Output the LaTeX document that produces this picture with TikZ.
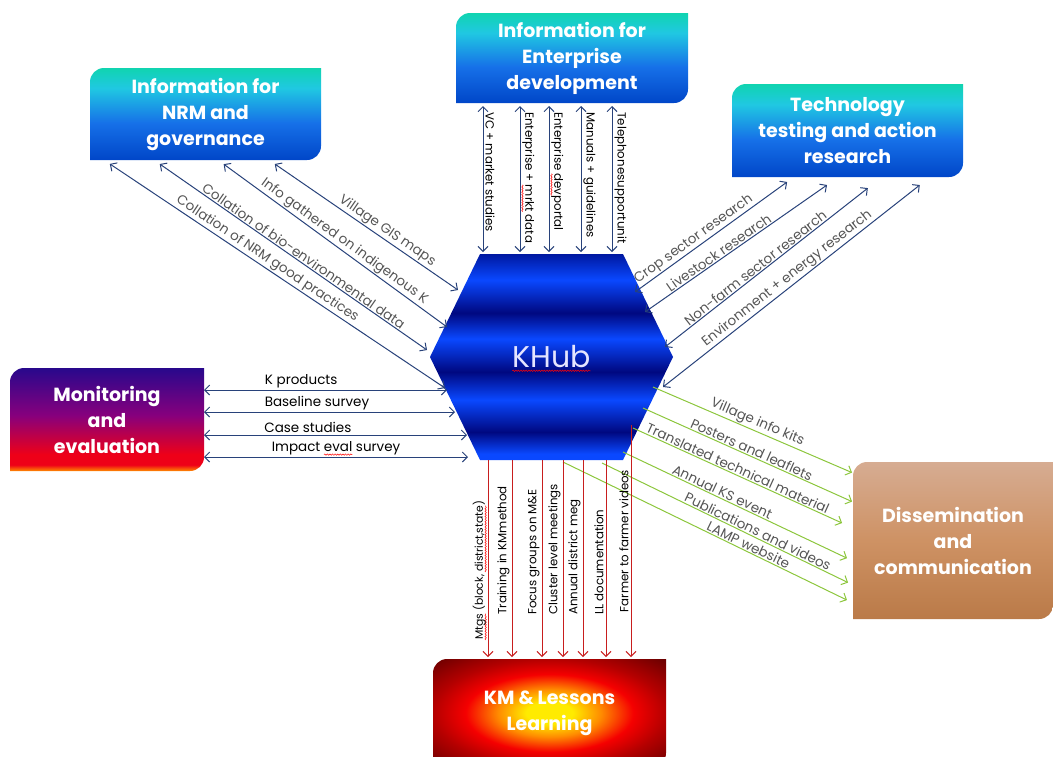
\documentclass[tikz,border=0pt]{standalone}
\usepackage{fontspec}
\setmainfont{Poppins}
\usepackage{tikz}
\usetikzlibrary{arrows.meta,backgrounds,decorations.pathmorphing}

\definecolor{navyline}{RGB}{40,66,122}
\definecolor{greenline}{RGB}{140,198,60}
\definecolor{redline}{RGB}{200,30,30}
\definecolor{labgray}{RGB}{85,85,85}
% box fills
\definecolor{cyT}{RGB}{16,212,176}
\definecolor{cyC}{RGB}{32,200,226}
\definecolor{cyM}{RGB}{22,112,232}
\definecolor{cyB}{RGB}{0,70,200}
\definecolor{hubT}{RGB}{0,24,160}
\definecolor{hubL}{RGB}{10,72,255}
\definecolor{hubD}{RGB}{0,8,128}
\definecolor{mneV}{RGB}{40,8,140}
\definecolor{mneP}{RGB}{135,0,125}
\definecolor{mneR}{RGB}{238,0,24}
\definecolor{mneO}{RGB}{255,140,0}
\definecolor{disT}{RGB}{214,172,146}
\definecolor{disM}{RGB}{206,146,100}
\definecolor{disB}{RGB}{186,122,72}
\definecolor{kmY}{RGB}{255,235,0}
\definecolor{kmO}{RGB}{255,140,0}
\definecolor{kmR}{RGB}{245,0,0}
\definecolor{kmD}{RGB}{180,0,0}
\definecolor{kmK}{RGB}{100,0,0}

\pgfdeclareverticalshading{cyanbox}{100bp}{color(0bp)=(cyB); color(25bp)=(cyB); color(45bp)=(cyM); color(64bp)=(cyC); color(75bp)=(cyT); color(100bp)=(cyT)}
\pgfdeclareverticalshading{hubbands}{100bp}{color(0bp)=(hubL); color(26.5bp)=(hubL); color(31.8bp)=(hubD); color(39.6bp)=(hubL); color(46.4bp)=(hubD); color(54.4bp)=(hubL); color(60.7bp)=(hubD); color(68.7bp)=(hubL); color(75bp)=(hubT); color(100bp)=(hubT)}
\pgfdeclareverticalshading{mnebox}{100bp}{color(0bp)=(mneO); color(25bp)=(mneO); color(28bp)=(mneR); color(33bp)=(mneR); color(52bp)=(mneP); color(75bp)=(mneV); color(100bp)=(mneV)}
\pgfdeclareverticalshading{disbox}{100bp}{color(0bp)=(disB); color(25bp)=(disB); color(50bp)=(disM); color(75bp)=(disT); color(100bp)=(disT)}
\pgfdeclareradialshading{kmglow}{\pgfpoint{0bp}{0bp}}{color(0bp)=(kmY); color(5bp)=(kmY); color(11bp)=(kmO); color(18bp)=(kmR); color(25bp)=(kmD); color(36bp)=(kmK); color(50bp)=(kmK)}

% box with two round corners (top left, bottom right)
\newcommand{\cornerbox}[2]{%
  \shade[shading=#1,rounded corners=14pt] (#2.north west) rectangle (#2.south east)
    [sharp corners] (#2.north) rectangle (#2.east) (#2.west) rectangle (#2.south);}
% red wavy mark of the spell checker
\newlength{\spellwd}
\newcommand{\spell}[1]{\settowidth{\spellwd}{#1}\rlap{\tikz[baseline=0pt,overlay]\draw[arrows=-,shorten <=0pt,shorten >=0pt,red,line width=0.5pt,decorate,decoration={snake,amplitude=0.7pt,segment length=2.6pt}] (0pt,-2.8pt) -- (\spellwd,-2.8pt);}#1}

\begin{document}
\begin{tikzpicture}[x=1pt,y=-1pt,
  boxtext/.style={inner sep=0pt,outer sep=0pt,align=center,text=white,
    font=\bfseries\fontsize{19}{26}\selectfont},
  flow/.style={line width=1pt,navyline,{Straight Barb[length=5pt,width=10pt]}-{Straight Barb[length=5pt,width=10pt]}},
  feed/.style={line width=1pt,greenline,-{Straight Barb[length=5pt,width=10pt]}},
  learn/.style={line width=1pt,redline,-{Straight Barb[length=5pt,width=10pt]}},
  tag/.style={inner sep=1pt,text=labgray,font=\fontsize{13.5}{15}\selectfont},
  htag/.style={inner sep=1.5pt,text=black,font=\fontsize{13.5}{15}\selectfont},
  vtag/.style={inner sep=2pt,text=black,font=\fontsize{11.8}{13}\selectfont}]
\useasboundingbox (0,0) rectangle (1053,756);

% boxes
\node[boxtext,minimum width=231pt,minimum height=92pt] (nrm) at (205.5,114) {Information for\\NRM and\\governance};
\node[boxtext,minimum width=232pt,minimum height=90pt] (ent) at (572,58) {Information for\\Enterprise\\development};
\node[boxtext,minimum width=231pt,minimum height=93pt] (tech) at (847.5,130.5) {Technology\\testing and action\\research};
\node[boxtext,minimum width=194pt,minimum height=103pt] (mne) at (107,419.5) {Monitoring\\and\\evaluation};
\node[boxtext,minimum width=200pt,minimum height=157pt] (dis) at (953,540.5) {Dissemination\\and\\communication};
\node[boxtext,minimum width=233pt,minimum height=108pt] (km) at (549.5,713) {KM \& Lessons\\Learning};
\node[inner sep=0pt,outer sep=0pt,minimum width=243pt,minimum height=206pt,text=white!90!blue,
  font=\fontsize{30}{30}\selectfont] (hub) at (551.5,357) {\spell{KHub}};

\begin{pgfonlayer}{background}
\cornerbox{cyanbox}{nrm}
\cornerbox{cyanbox}{ent}
\cornerbox{cyanbox}{tech}
\cornerbox{mnebox}{mne}
\cornerbox{disbox}{dis}
\cornerbox{kmglow}{km}
\shade[shading=hubbands] (hub.west) -- (480,254) -- (623,254) -- (hub.east) -- (623,460) -- (480,460) -- cycle;
\end{pgfonlayer}

% ends on the hub
\coordinate (hl1) at (445,388);
\coordinate (hl2) at (427,350);
\coordinate (hl3) at (447,327);
\coordinate (hl4) at (458,290);
\coordinate (hr1) at (635,292);
\coordinate (hr2) at (645,312);
\coordinate (hr3) at (665,347);
\coordinate (hr4) at (663,387);
\coordinate (hm1) at (447,390);
\coordinate (hm2) at (455,412);
\coordinate (hm3) at (467,435);
\coordinate (hm4) at (468,457);
\coordinate (hg1) at (653,387);
\coordinate (hg2) at (643,408);
\coordinate (hg3) at (633,428);
\coordinate (hg4) at (623,452);
\coordinate (hg5) at (602,463);
\coordinate (hg6) at (563,462);
\coordinate (hff) at (631,425);

% enterprise
\foreach \x/\t in {483/VC + market studies, 520/{Enterprise + \spell{mrkt} data}, 549/{Enterprise \spell{dev}portal}, 581/Manuals + guidelines, 612/{Telephone\hspace{0.5pt}support\hspace{0.5pt}unit}}
  \draw[flow,shorten <=3pt,shorten >=2pt] (ent.south -| \x,0) -- node[vtag,pos=0.046,sloped,anchor=south west] {\t} (hub.north -| \x,0);

% NRM
\foreach \x/\c/\p/\t in {104/hl1/0.465/Collation of NRM good practices, 154/hl2/0.535/Collation of bio-environmental data, 218/hl3/0.53/Info gathered on indigenous K, 269/hl4/0.60/Village GIS maps}
  \draw[flow,shorten <=7pt] (nrm.south -| \x,0) -- node[tag,pos=\p,sloped,above] {\t} (\c);

% technology
\foreach \c/\x/\s/\p/\t in {hr1/794/8.5/0.40/Crop sector research, hr2/838.5/14/0.40/Livestock research, hr3/882/18/0.435/Non-farm sector research, hr4/930/13/0.485/Environment + energy research}
  \draw[flow,shorten >=\s pt] (\c) -- node[tag,pos=\p,sloped,above] {\t} (tech.south -| \x,0);

% M&E
\foreach \y/\c/\p/\t in {390/hm1/0.40/K products, 412/hm2/0.45/Baseline survey, 435/hm3/0.395/Case studies, 457/hm4/0.50/{Impact \spell{eval} survey}}
  \draw[flow] (mne.east |- 0,\y) -- node[htag,pos=\p,above] {\t} (\c);

% dissemination
\foreach \c/\y/\s/\p/\t in {hg1/473/1/0.505/Village info kits, hg2/502/1/0.505/Posters and leaflets, hg3/528/12/0.464/Translated technical material, hg4/561/6.6/0.42/Annual KS event, hg5/585/5.5/0.61/Publications and videos, hg6/603/6.7/0.63/LAMP website}
  \draw[feed,shorten >=\s pt] (\c) -- node[tag,pos=\p,sloped,above] {\t} (dis.west |- 0,\y);

% lessons learning
\foreach \x/\p/\t in {488/0.915/{\fontsize{10.8}{12}\selectfont\spell{Mtgs} (block, \spell{district,state})}, 512/0.79/Training in KMmethod, 542/0.79/Focus groups on M\&E, 563/0.79/Cluster level meetings, 583/0.79/Annual district meg, 606/0.79/LL documentation}
  \draw[learn,shorten >=2pt] (hub.south -| \x,0) -- node[vtag,pos=\p,rotate=90,anchor=south west] {\t} (km.north -| \x,0);
\draw[learn,shorten >=2pt] (hff) -- node[vtag,pos=0.81,rotate=90,anchor=south west] {Farmer to farmer videos} (km.north -| hff);
\end{tikzpicture}
\end{document}
